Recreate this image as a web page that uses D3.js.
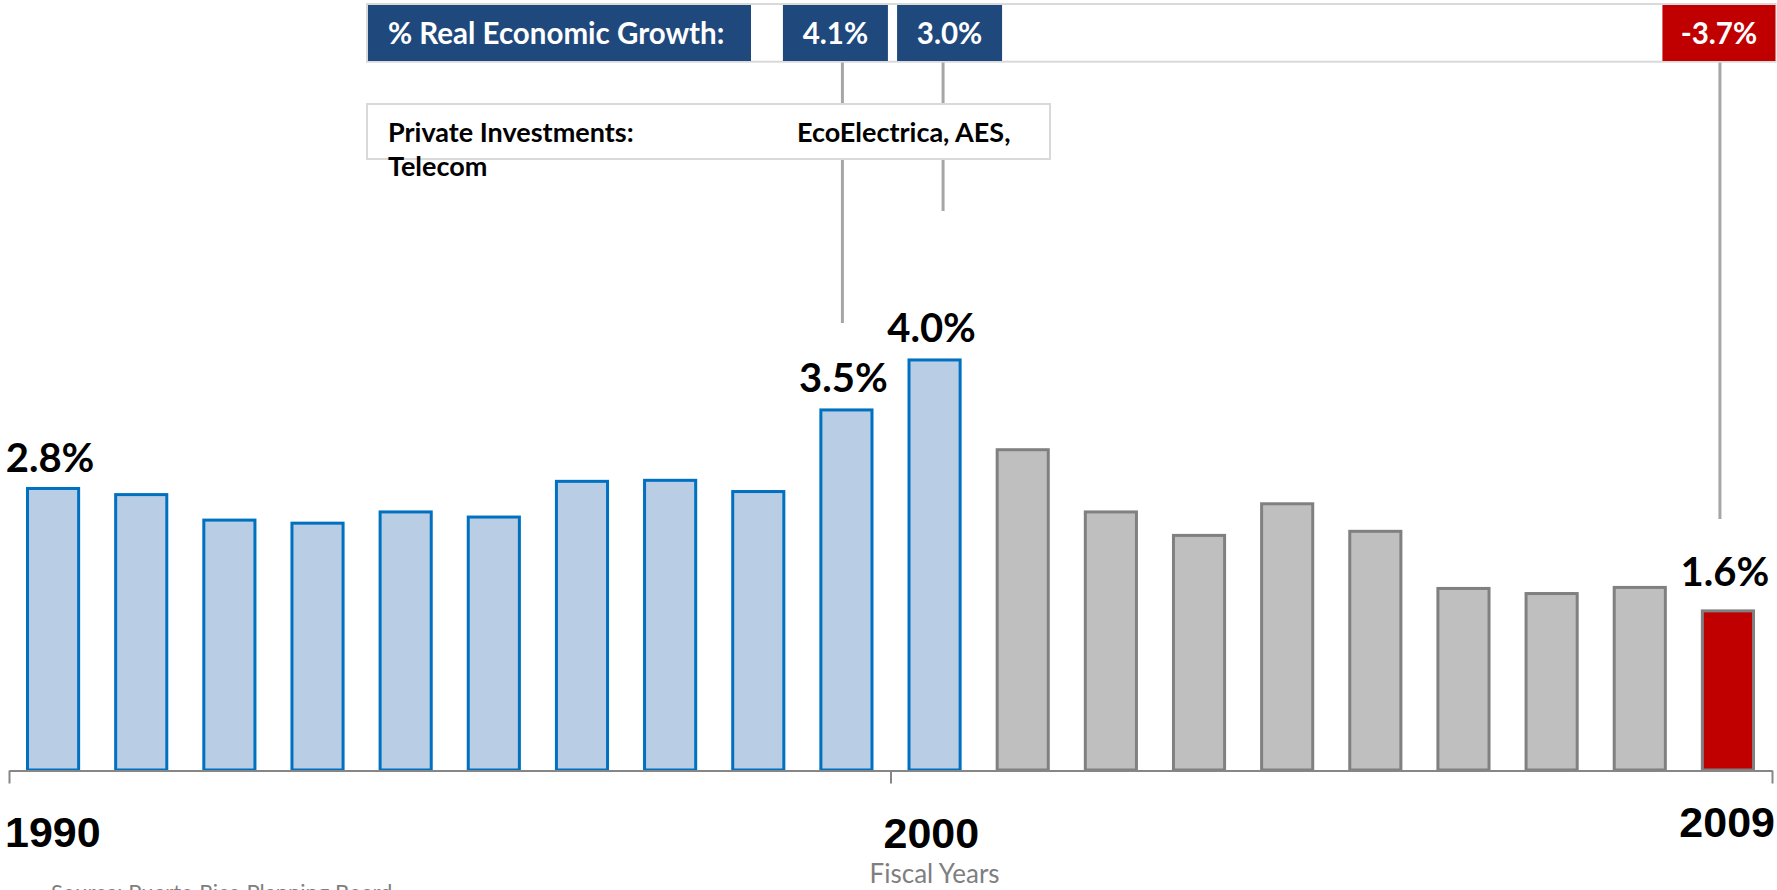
<!DOCTYPE html>
<html>
<head>
<meta charset="utf-8">
<script src="https://cdn.jsdelivr.net/npm/d3@7"></script>
<style>
  html, body { margin: 0; padding: 0; background: #fff; overflow: hidden; }
  svg { display: block; }
</style>
</head>
<body>
<svg id="chart" width="1777" height="890"></svg>
<script>
// ---------- DATA ----------
const years = [1990, 1991, 1992, 1993, 1994, 1995, 1996, 1997, 1998, 1999,
               2000, 2001, 2002, 2003, 2004, 2005, 2006, 2007, 2008, 2009];
const values = [2.76, 2.70, 2.45, 2.42, 2.53, 2.48, 2.83, 2.84, 2.73, 3.53,
                4.02, 3.14, 2.53, 2.30, 2.61, 2.34, 1.78, 1.73, 1.79, 1.56];
const periods = ["blue", "blue", "blue", "blue", "blue", "blue", "blue", "blue", "blue", "blue",
                 "blue", "gray", "gray", "gray", "gray", "gray", "gray", "gray", "gray", "red"];
const labeledYears = [1990, 1999, 2000, 2009];
const tickLabels = ["1990", "2000", "2009"];
const growthYears = [1999, 2000, 2009];
const growthLabels = ["4.1%", "3.0%", "-3.7%"];
const growthTitle = "% Real Economic Growth:";
const investTitle = "Private Investments:";
const investText = ["EcoElectrica, AES,", "Telecom"];
const axisTitle = "Fiscal Years";
const sourceText = "Source: Puerto Rico Planning Board";

// ---------- STYLES ----------
const fills = { blue: "#b9cde5", gray: "#bfbfbf", red: "#c00000" };
const strokes = { blue: "#0070c0", gray: "#808080", red: "#808080" };
const calibri = "Lato, 'Open Sans', sans-serif";
const arial = "'Liberation Sans', Arial, sans-serif";

const svg = d3.select("#chart");

// ---------- SCALES ----------
const x = d3.scaleBand().domain(years).range([9, 1772]).paddingInner(0.42).paddingOuter(0.21);
const y = d3.scaleLinear().domain([0, 4.5]).range([770, 770 - 102 * 4.5]);
const xc = d => x(d) + x.bandwidth() / 2;

// ---------- BARS ----------
const data = years.map((yr, i) => ({ year: yr, value: values[i], period: periods[i] }));
svg.append("g").selectAll("rect").data(data).join("rect")
  .attr("x", d => x(d.year))
  .attr("y", d => y(d.value))
  .attr("width", x.bandwidth())
  .attr("height", d => y(0) - y(d.value))
  .attr("fill", d => fills[d.period])
  .attr("stroke", d => strokes[d.period])
  .attr("stroke-width", 3);

// ---------- AXIS ----------
const boundary = d3.scaleLinear().domain([0, years.length]).range([9, 1772]);
const axis = d3.axisBottom(boundary).tickValues([0, 10, 20]).tickSize(13).tickSizeOuter(0).tickFormat("");
const gAxis = svg.append("g").attr("transform", "translate(0,770.5)").call(axis);
gAxis.select(".domain").attr("stroke", "#868686").attr("stroke-width", 2);
gAxis.selectAll(".tick line").attr("stroke", "#868686").attr("stroke-width", 2);

// Year labels (start / middle boundary / end)
const yearLabelPos = [
  { x: boundary(0) - 4, y: 847, anchor: "start" },
  { x: boundary(10) - 7, y: 848, anchor: "start" },
  { x: boundary(20) + 3, y: 837, anchor: "end" }
];
svg.append("g").selectAll("text").data(tickLabels).join("text")
  .attr("x", (d, i) => yearLabelPos[i].x)
  .attr("y", (d, i) => yearLabelPos[i].y)
  .attr("text-anchor", (d, i) => yearLabelPos[i].anchor)
  .attr("font-family", arial).attr("font-weight", "bold").attr("font-size", 43)
  .attr("fill", "#000").text(d => d);

// Axis title
svg.append("text").attr("x", xc(2000)).attr("y", 883).attr("text-anchor", "middle")
  .attr("font-family", calibri).attr("font-size", 26).attr("fill", "#7f7f7f").text(axisTitle);

// Source
svg.append("text").attr("x", 51).attr("y", 900)
  .attr("font-family", calibri).attr("font-size", 22).attr("fill", "#7f7f7f").text(sourceText);

// ---------- DATA LABELS ----------
const labelGap = { 1990: 16, 1999: 18, 2000: 18, 2009: 25 };
const fmt = d3.format(".1f");
svg.append("g").selectAll("text").data(data.filter(d => labeledYears.includes(d.year))).join("text")
  .attr("x", d => xc(d.year) - 3)
  .attr("y", d => y(d.value) - labelGap[d.year])
  .attr("text-anchor", "middle")
  .attr("font-family", calibri).attr("font-weight", "bold").attr("font-size", 40)
  .attr("fill", "#000").text(d => fmt(d.value) + "%");

// ---------- CONNECTOR LINES ----------
const lineOffset = [-4, 8.5, -8];
const lineEnd = [323, 211, 519];
svg.append("g").selectAll("line").data(growthYears).join("line")
  .attr("x1", (d, i) => xc(d) + lineOffset[i]).attr("x2", (d, i) => xc(d) + lineOffset[i])
  .attr("y1", 62).attr("y2", (d, i) => lineEnd[i])
  .attr("stroke", "#a6a6a6").attr("stroke-width", 3);

// ---------- GROWTH BANNER ----------
svg.append("rect").attr("x", 367).attr("y", 4).attr("width", 1775.5 - 367).attr("height", 57.7)
  .attr("fill", "#fff").attr("stroke", "#d9d9d9").attr("stroke-width", 2);
svg.append("rect").attr("x", 368).attr("y", 5).attr("width", 751 - 368).attr("height", 56)
  .attr("fill", "#1f497d");
svg.append("text").attr("x", 388).attr("y", 44)
  .attr("font-family", calibri).attr("font-weight", "bold").attr("font-size", 29.5)
  .attr("fill", "#fff").text(growthTitle);

const boxCenterOffset = [-11, 15, -9];
const boxWidth = [105, 105, 113];
const gGrowth = svg.append("g").selectAll("g").data(growthYears).join("g");
gGrowth.append("rect")
  .attr("x", (d, i) => xc(d) + boxCenterOffset[i] - boxWidth[i] / 2)
  .attr("y", 5).attr("width", (d, i) => boxWidth[i]).attr("height", 56)
  .attr("fill", (d, i) => i === 2 ? "#c00000" : "#1f497d");
gGrowth.append("text")
  .attr("x", (d, i) => xc(d) + boxCenterOffset[i])
  .attr("y", 44).attr("text-anchor", "middle")
  .attr("font-family", calibri).attr("font-weight", "bold").attr("font-size", 29.5)
  .attr("fill", "#fff").text((d, i) => growthLabels[i]);

// ---------- PRIVATE INVESTMENTS BOX ----------
svg.append("rect").attr("x", 367).attr("y", 104).attr("width", 1050 - 367).attr("height", 55)
  .attr("fill", "#fff").attr("stroke", "#d9d9d9").attr("stroke-width", 2);
const invFont = { family: calibri, size: 27 };
svg.append("text").attr("x", 388).attr("y", 142)
  .attr("font-family", invFont.family).attr("font-weight", "bold").attr("font-size", invFont.size)
  .attr("fill", "#000").text(investTitle);
svg.append("text").attr("x", 797).attr("y", 142)
  .attr("font-family", invFont.family).attr("font-weight", "bold").attr("font-size", invFont.size)
  .attr("fill", "#000").text(investText[0]);
svg.append("text").attr("x", 388).attr("y", 176)
  .attr("font-family", invFont.family).attr("font-weight", "bold").attr("font-size", invFont.size)
  .attr("fill", "#000").text(investText[1]);
</script>
</body>
</html>
